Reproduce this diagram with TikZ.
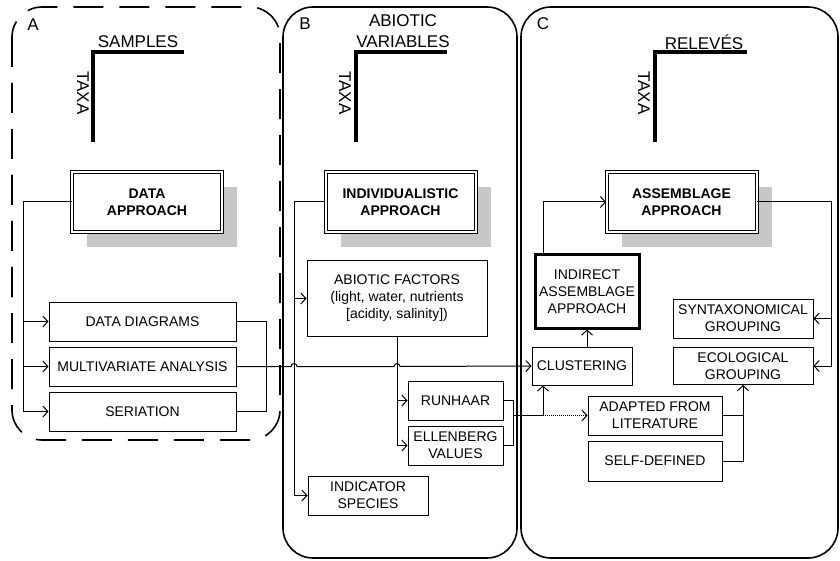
\documentclass[tikz,border=0pt]{standalone}
\usepackage{fontspec}
\setmainfont{Liberation Sans}
\usetikzlibrary{arrows.meta, positioning, shadows}

\begin{document}
\begin{tikzpicture}[x=1pt, y=-1pt, node distance=45pt]
\tikzstyle{panel} = [line width=1.6pt, rounded corners=30pt]
\tikzstyle{box} = [rectangle, draw=black, line width=1pt, fill=white, text centered, align=center, inner sep=1pt, font=\fontsize{14}{17}\selectfont]
\tikzstyle{approach} = [box, double, double distance=2pt, font=\fontsize{14}{17}\selectfont\bfseries, minimum width=150pt, minimum height=60pt, drop shadow={shadow xshift=15pt, shadow yshift=-15pt, fill=black!22, draw=none, opacity=1}]
\tikzstyle{axisline} = [line width=3.5pt]
\tikzstyle{axislabel} = [font=\fontsize{17}{21}\selectfont, inner sep=0pt, align=center]
\tikzstyle{link} = [line width=1pt]
\tikzstyle{arrow} = [link, -{Straight Barb[length=5pt, width=11pt]}]

\useasboundingbox (0,0) rectangle (840,561);

% panels
\draw [panel, dash pattern=on 30pt off 16pt] (12,7) rectangle (280,440);
\draw [panel] (283,7) rectangle (517,558);
\draw [panel] (521,7) rectangle (838,558);
\node (lblA) [axislabel] at (33,25) {A};
\node (lblB) [axislabel] at (305,24) {B};
\node (lblC) [axislabel] at (543,24) {C};

% axes
\draw [axisline] (93,142) |- (184,52);
\node (samples) [axislabel] at (138,42) {SAMPLES};
\node (taxaA) [axislabel, rotate=-90] at (83,93) {TAXA};
\draw [axisline] (356,142) |- (447,52);
\node (abvar) [axislabel] at (403,31) {ABIOTIC\\VARIABLES};
\node (taxaB) [axislabel, rotate=-90] at (345,93) {TAXA};
\draw [axisline] (655,142) |- (747,52);
\node (releves) [axislabel] at (704,42) {RELEVÉS};
\node (taxaC) [axislabel, rotate=-90] at (644,93) {TAXA};

% A
\node (data) [approach] at (147,202) {DATA\\APPROACH};
\node (diag) [box, minimum width=187pt, minimum height=39pt] at (142.5,321.5) {DATA DIAGRAMS};
\node (mva) [box, minimum width=187pt, minimum height=39pt, below of=diag] {MULTIVARIATE ANALYSIS};
\node (seri) [box, minimum width=187pt, minimum height=39pt, below of=mva] {SERIATION};

% B
\node (indiv) [approach] at (400.5,202) {INDIVIDUALISTIC\\APPROACH};
\node (abiotic) [box, minimum width=180pt, minimum height=75pt] at (397,298.5) {ABIOTIC FACTORS\\(light, water, nutrients\\{[}acidity, salinity{]})};
\node (runhaar) [box, minimum width=95pt, minimum height=39pt] at (455.5,400.5) {RUNHAAR};
\node (ellen) [box, minimum width=95pt, minimum height=39pt, below of=runhaar] {ELLENBERG\\VALUES};
\node (indic) [box, minimum width=120pt, minimum height=39pt] at (368,495.5) {INDICATOR\\SPECIES};

% C
\node (assem) [approach] at (681.5,202) {ASSEMBLAGE\\APPROACH};
\node (indirect) [box, line width=3pt, minimum width=104pt, minimum height=73pt] at (587,291.5) {INDIRECT\\ASSEMBLAGE\\APPROACH};
\node (clus) [box, minimum width=100pt, minimum height=38pt] at (582,366) {CLUSTERING};
\node (syntax) [box, minimum width=140pt, minimum height=39pt] at (743,318.5) {SYNTAXONOMICAL\\GROUPING};
\node (ecol) [box, minimum width=140pt, minimum height=37pt] at (743,366) {ECOLOGICAL\\GROUPING};
\node (adapted) [box, minimum width=134pt, minimum height=39pt] at (655,415.5) {ADAPTED FROM\\LITERATURE};
\node (selfdef) [box, minimum width=134pt, minimum height=40pt] at (655,461) {SELF-DEFINED};

% connectors
\draw [arrow] (data.west) -- ++(-48,0) coordinate (dl) |- (seri.west);
\draw [arrow] (dl |- diag.west) -- (diag.west);
\draw [arrow] (dl |- mva.west) -- (mva.west);
\draw [link] (diag.east) -- ++(30,0) |- (seri.east);

\draw [arrow] (indiv.west) -- ++(-31,0) coordinate (bl) |- (indic.west);
\draw [arrow] (bl |- abiotic.west) -- (abiotic.west);
\draw [arrow] (abiotic.south) |- (ellen.west);
\draw [arrow] (abiotic.south |- runhaar.west) -- (runhaar.west);
\draw [link] (runhaar.east) -- ++(10,0) coordinate (rr) |- (ellen.east);

\draw [arrow] (mva.east) -- ([xshift=-3pt]bl |- mva.east) arc[start angle=180, end angle=0, radius=3pt]
  -- ([xshift=-3pt]abiotic.south |- mva.east) arc[start angle=180, end angle=0, radius=3pt] -- (clus.west);

\coordinate (split) at (543,415.5);
\draw [link] (rr |- adapted.west) -- (split);
\draw [arrow] (split) -- (split |- clus.south);
\draw [arrow, densely dotted] (split) -- (adapted.west);
\draw [arrow] (clus.north -| indirect.south) -- (indirect.south);
\draw [arrow] (split |- indirect.north) |- (assem.west);
\draw [arrow] (assem.east) -- ++(74,0) coordinate (ar) |- (ecol.east);
\draw [arrow] (ar |- syntax.east) -- (syntax.east);
\draw [link] (adapted.east) -- (adapted.east -| ecol.south);
\draw [arrow] (selfdef.east) -| (ecol.south);
\end{tikzpicture}
\end{document}
